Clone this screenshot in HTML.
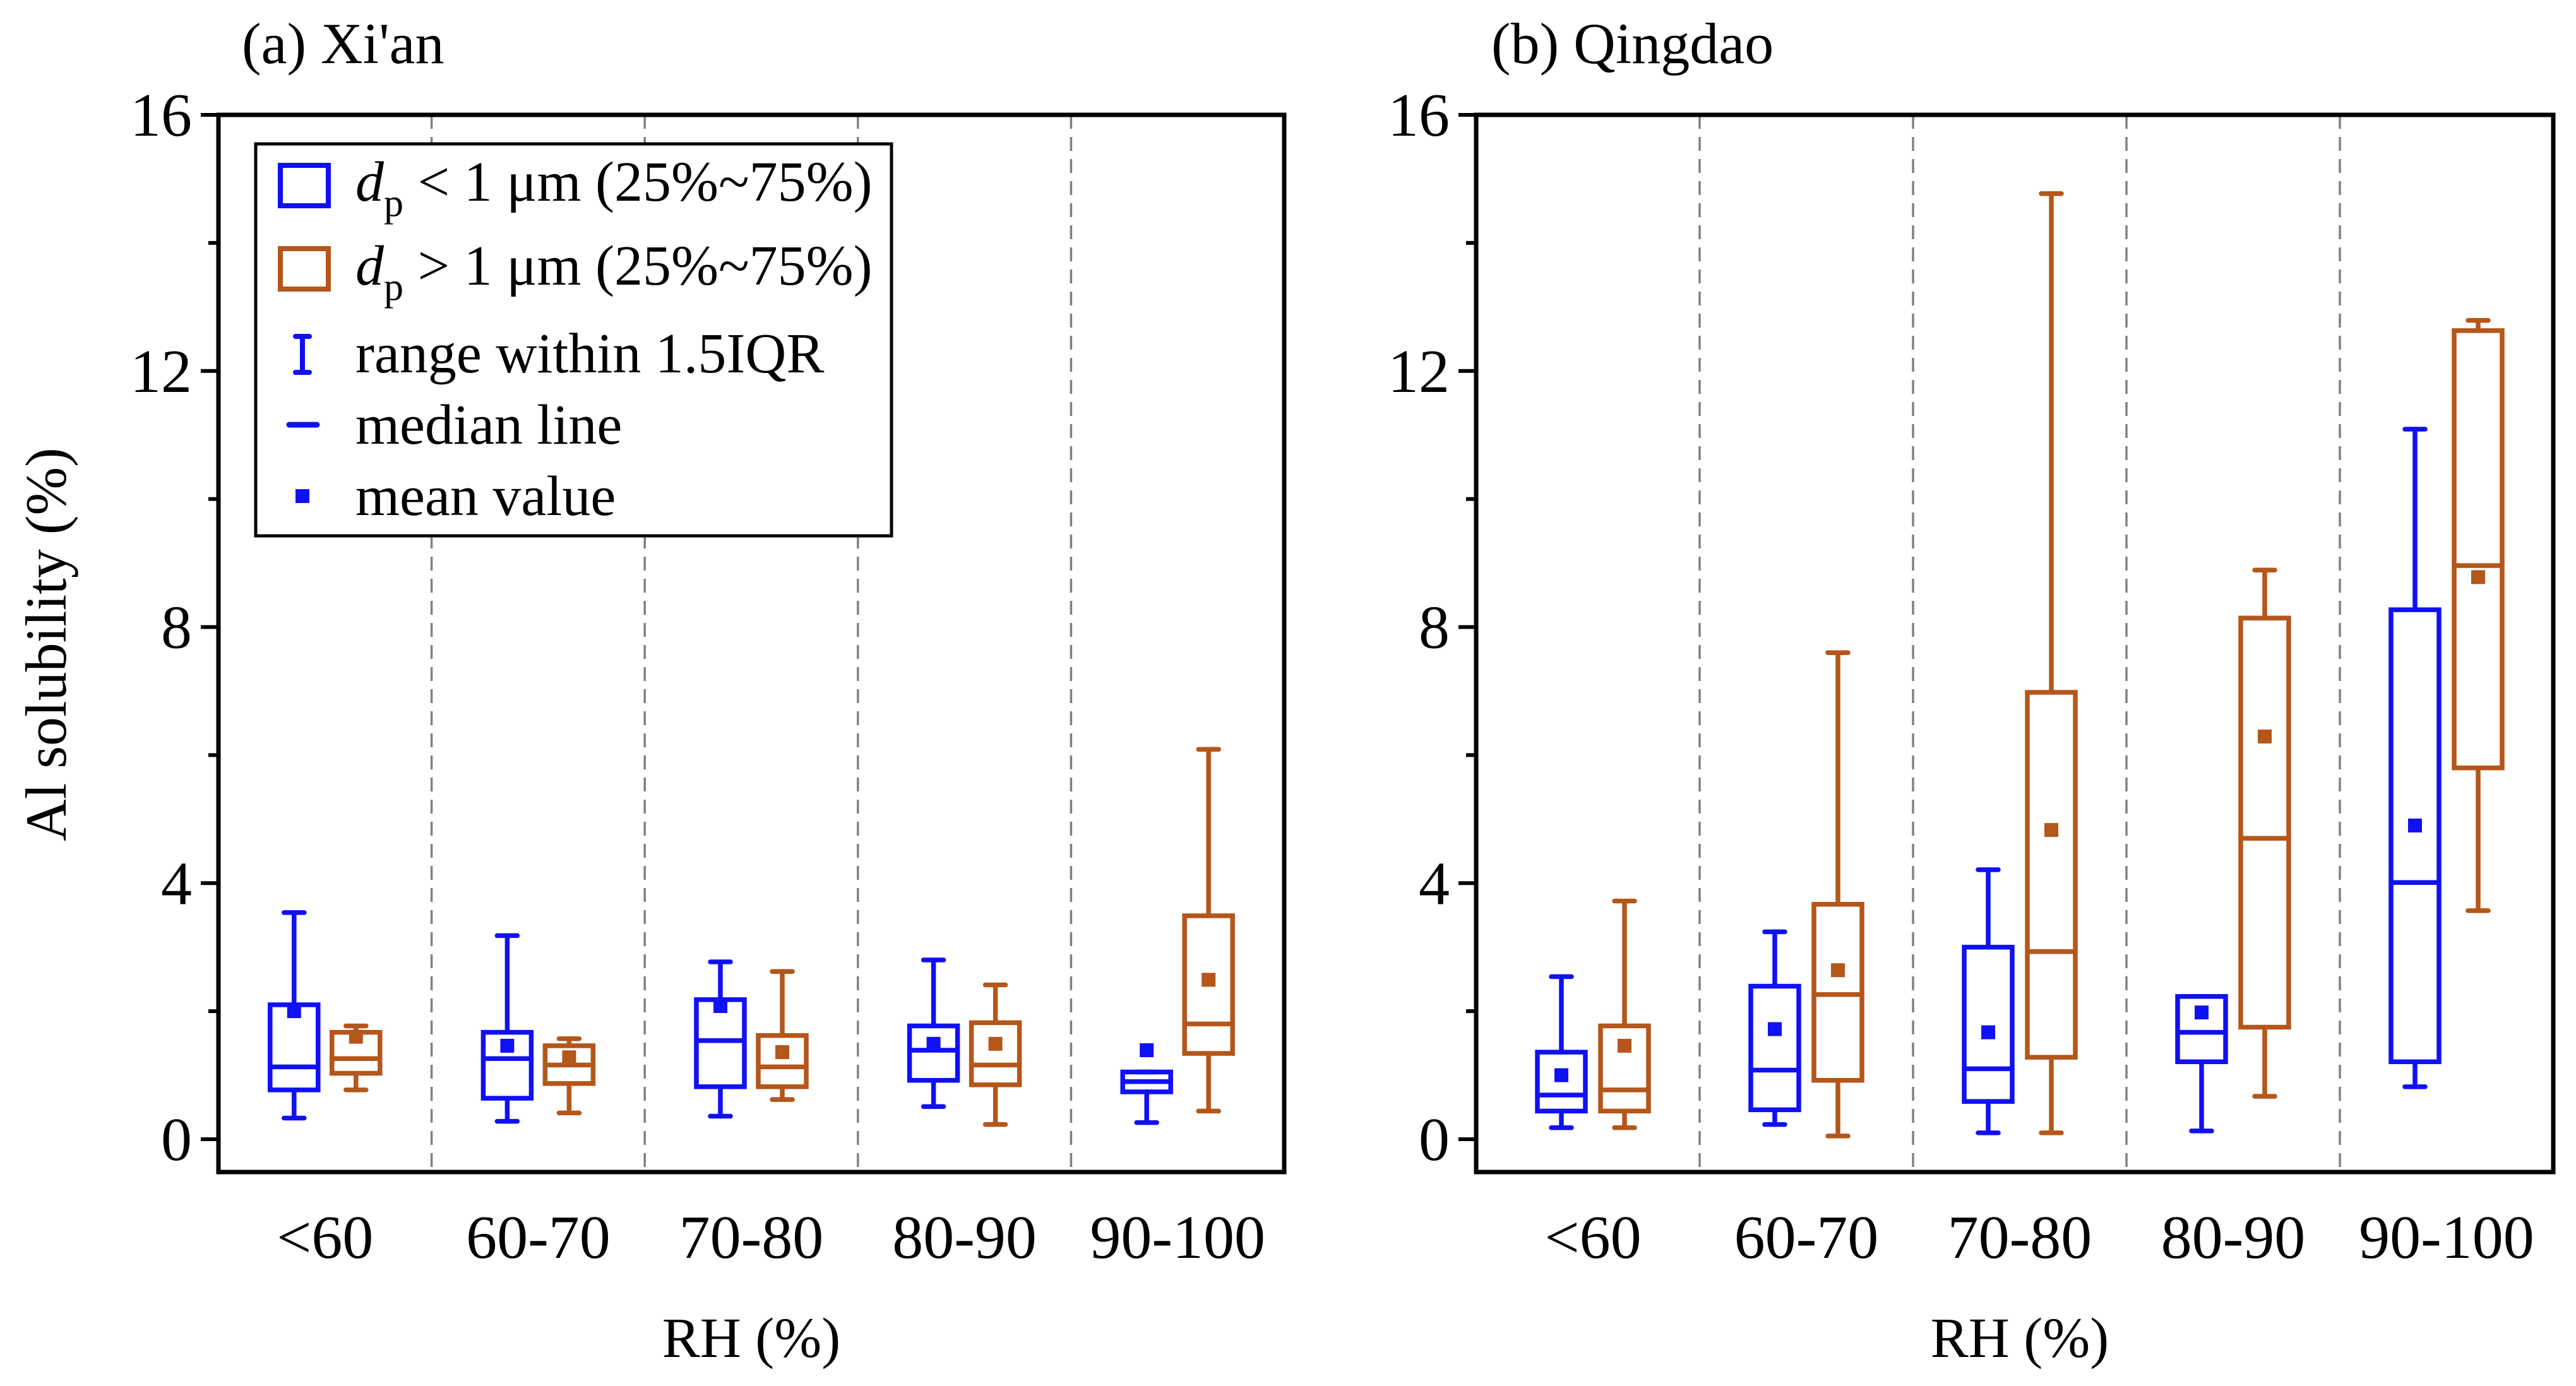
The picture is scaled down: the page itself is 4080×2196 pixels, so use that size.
<!DOCTYPE html>
<html><head><meta charset="utf-8"><style>
html,body{margin:0;padding:0;background:#fff;}
svg{display:block;}
svg text{font-family:"Liberation Serif","Times New Roman",serif;}
</style></head><body>
<svg id="chart" width="4080" height="2196" viewBox="0 0 4080 2196" xmlns="http://www.w3.org/2000/svg" font-family="Liberation Serif, serif">
<g id="panels"></g>
</svg>
<script>
const categories = ["<60","60-70","70-80","80-90","90-100"];
const yTicks = [0,4,8,12,16];
const xianFineMin = [0.33,0.28,0.36,0.51,0.26];
const xianFineQ1  = [0.77,0.64,0.82,0.92,0.74];
const xianFineMed = [1.13,1.26,1.54,1.39,0.90];
const xianFineQ3  = [2.10,1.67,2.18,1.77,1.05];
const xianFineMax = [3.54,3.18,2.77,2.80,1.05];
const xianFineMean= [2.00,1.46,2.08,1.49,1.39];
const xianCoarseMin = [0.77,0.41,0.62,0.23,0.44];
const xianCoarseQ1  = [1.03,0.87,0.82,0.85,1.34];
const xianCoarseMed = [1.26,1.16,1.13,1.16,1.80];
const xianCoarseQ3  = [1.67,1.46,1.62,1.82,3.49];
const xianCoarseMax = [1.77,1.57,2.62,2.41,6.09];
const xianCoarseMean= [1.60,1.28,1.36,1.49,2.49];
const qdFineMin = [0.18,0.23,0.10,0.13,0.82];
const qdFineQ1  = [0.44,0.46,0.59,1.21,1.21];
const qdFineMed = [0.69,1.08,1.10,1.67,4.01];
const qdFineQ3  = [1.36,2.39,3.00,2.23,8.27];
const qdFineMax = [2.54,3.24,4.21,2.23,11.09];
const qdFineMean= [1.00,1.72,1.67,1.98,4.90];
const qdCoarseMin = [0.18,0.05,0.10,0.67,3.57];
const qdCoarseQ1  = [0.44,0.92,1.28,1.75,5.80];
const qdCoarseMed = [0.77,2.26,2.93,4.70,8.96];
const qdCoarseQ3  = [1.77,3.67,6.98,8.14,12.63];
const qdCoarseMax = [3.72,7.60,14.77,8.89,12.79];
const qdCoarseMean= [1.46,2.64,4.83,6.29,8.78];

const NS="http://www.w3.org/2000/svg";
const BLUE="#1010f5", ORANGE="#b5561a";
function mk(tag,attrs,parent,text){const e=document.createElementNS(NS,tag);for(const k in attrs)e.setAttribute(k,attrs[k]);if(text!==undefined)e.textContent=text;parent.appendChild(e);return e;}

function panel(opt){
  const root=document.getElementById('panels');
  const g=mk('g',{},root);
  
  
  const L=opt.x0,R=opt.x1,T=182,B=1857;
  const CL=opt.c0;
  const y=v=>1805-(v/16)*(1805-182);
  const cw=(R-CL)/categories.length;
  const cx=i=>CL+cw*(i+0.5);
  for(let i=1;i<categories.length;i++){
    const d=mk('line',{x1:CL+cw*i,x2:CL+cw*i,y1:T,y2:B,stroke:'#808080','stroke-width':3.5,'stroke-dasharray':'22 13'},g);
    
    
  }
  for(let v=0;v<=16;v+=2){
    const major=v%4===0;
    const t=mk('line',{x1:L-(major?28:16),x2:L,y1:y(v),y2:y(v),stroke:'#000','stroke-width':6},g);
    
    
  }
  yTicks.forEach(v=>{
    const t=mk('text',{x:L-42,y:y(v)+33,'text-anchor':'end','font-size':98},g,String(v));
    
    
  });
  categories.forEach((c,i)=>{
    const t=mk('text',{x:cx(i),y:1993,'text-anchor':'middle','font-size':98},g,c);
    
    
  });
  const xt=mk('text',{x:(CL+R)/2,y:2150,'text-anchor':'middle','font-size':90},g,'RH (%)');
  
  
  const tt=mk('text',{x:opt.titleX,y:100,'font-size':92},g,opt.title);
  
  
  const bw=76, off=opt.off;
  function box(i,s,color,dx){
    const bg=mk('g',{stroke:color,'stroke-width':7.5,fill:'none','stroke-linecap':'round'},g);
    
    
    const S=opt.series[s], x=cx(i)+dx;
    mk('line',{x1:x,x2:x,y1:y(S.max[i]),y2:y(S.q3[i])},bg);
    mk('line',{x1:x,x2:x,y1:y(S.q1[i]),y2:y(S.min[i])},bg);
    mk('line',{x1:x-16,x2:x+16,y1:y(S.max[i]),y2:y(S.max[i])},bg);
    mk('line',{x1:x-16,x2:x+16,y1:y(S.min[i]),y2:y(S.min[i])},bg);
    mk('rect',{x:x-bw/2,y:y(S.q3[i]),width:bw,height:Math.max(0,y(S.q1[i])-y(S.q3[i]))},bg);
    mk('line',{x1:x-bw/2,x2:x+bw/2,y1:y(S.med[i]),y2:y(S.med[i])},bg);
    const m=mk('rect',{x:x-11,y:y(S.mean[i])-11,width:22,height:22,fill:color,stroke:'none'},g);
    
    
  }
  categories.forEach((c,i)=>{box(i,0,BLUE,-off);box(i,1,ORANGE,off);});
  const fr=mk('rect',{x:L,y:T,width:R-L,height:B-T,fill:'none',stroke:'#000','stroke-width':7},g);
  
  
  return g;
}

panel({name:'panel-xian',x0:346,c0:346,x1:2034,title:"(a) Xi'an",titleX:383,off:49,series:[
  {name:'fine',min:xianFineMin,q1:xianFineQ1,med:xianFineMed,q3:xianFineQ3,max:xianFineMax,mean:xianFineMean},
  {name:'coarse',min:xianCoarseMin,q1:xianCoarseQ1,med:xianCoarseMed,q3:xianCoarseQ3,max:xianCoarseMax,mean:xianCoarseMean}]});
panel({name:'panel-qingdao',x0:2338,c0:2354,x1:4044,title:"(b) Qingdao",titleX:2362,off:50,series:[
  {name:'fine',min:qdFineMin,q1:qdFineQ1,med:qdFineMed,q3:qdFineQ3,max:qdFineMax,mean:qdFineMean},
  {name:'coarse',min:qdCoarseMin,q1:qdCoarseQ1,med:qdCoarseMed,q3:qdCoarseQ3,max:qdCoarseMax,mean:qdCoarseMean}]});
</script>
<svg width="4080" height="2196" style="position:absolute;left:0;top:0" font-family="Liberation Serif, serif" xmlns="http://www.w3.org/2000/svg">
  <text x="104" y="1021" transform="rotate(-90 104 1021)" text-anchor="middle" font-size="92">Al solubility (%)</text>
  <g>
    <rect x="405" y="228" width="1007" height="621" fill="#fff" stroke="#000" stroke-width="5"/>
    <rect x="444" y="262" width="76" height="64" fill="none" stroke="#1010f5" stroke-width="8"/>
    <text x="563" y="318" font-size="90"><tspan font-style="italic">d</tspan><tspan font-size="62" dy="24">p</tspan><tspan dy="-24"> &lt; 1 μm (25%~75%)</tspan></text>
    <rect x="444" y="394" width="76" height="64" fill="none" stroke="#b5561a" stroke-width="8"/>
    <text x="563" y="451" font-size="90"><tspan font-style="italic">d</tspan><tspan font-size="62" dy="24">p</tspan><tspan dy="-24"> &gt; 1 μm (25%~75%)</tspan></text>
    <g stroke="#1010f5" stroke-width="8" stroke-linecap="round">
      <line x1="479" x2="479" y1="533" y2="590"/><line x1="468" x2="490" y1="533" y2="533"/><line x1="468" x2="490" y1="590" y2="590"/>
    </g>
    <text x="563" y="590" font-size="90">range within 1.5IQR</text>
    <line x1="458" x2="502" y1="673" y2="673" stroke="#1010f5" stroke-width="9" stroke-linecap="round"/>
    <text x="563" y="703" font-size="90">median line</text>
    <rect x="468" y="775" width="22" height="22" fill="#1010f5"/>
    <text x="563" y="816" font-size="90">mean value</text>
  </g>
</svg>
</body></html>
